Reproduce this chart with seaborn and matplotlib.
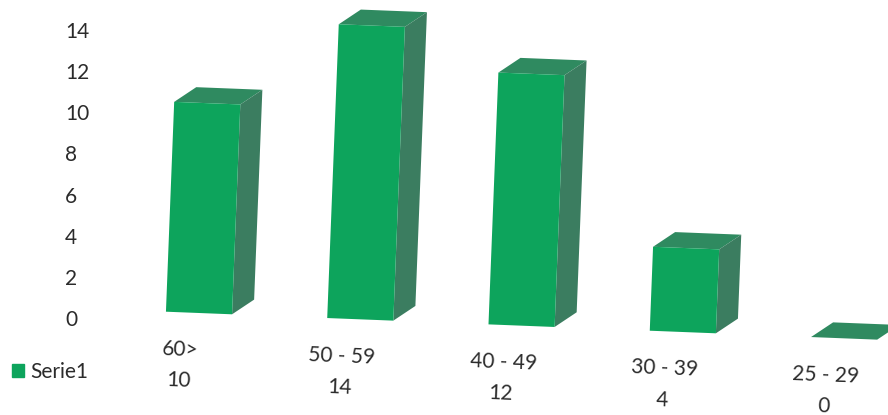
import matplotlib.pyplot as plt
import seaborn as sns
from matplotlib.patches import Patch, Polygon
from matplotlib.transforms import Affine2D

categories = ["60>", "50 - 59", "40 - 49", "30 - 39", "25 - 29"]
values = [10, 14, 12, 4, 0]
y_ticks = [0, 2, 4, 6, 8, 10, 12, 14]
series_name = "Serie1"

front_color = "#0da45c"
top_color = "#2f8a60"
side_color = "#3b7d60"
text_color = "#2b2b2b"

sns.set_theme(style="white")
plt.rcParams["font.family"] = ["Lato", "DejaVu Sans"]

fig = plt.figure(figsize=(8.88, 4.15), dpi=100)

# the source is a slightly crooked scan, so everything is turned by a small angle
ax = fig.add_axes([0, 0, 1, 1])
ax.set_xlim(-199 / 161.4, (888 - 199) / 161.4)
ax.set_ylim(-102 / 21.0, (415 - 102) / 21.0)
turned = ax.transData + Affine2D().rotate_deg_around(199, 102, -2.25)

sns.barplot(
    x=categories,
    y=values,
    color=front_color,
    saturation=1,
    width=0.41,
    linewidth=0,
    ax=ax
)
ax.set_xlim(-199 / 161.4, (888 - 199) / 161.4)
ax.set_axis_off()

dx = 0.133
dy = 0.74

for bar in ax.patches:
    bar.set_transform(turned)
    bar.set_zorder(3)
    x0 = bar.get_x()
    x1 = x0 + bar.get_width()
    h = bar.get_height()
    ax.add_patch(Polygon(
        [(x0, h), (x1, h), (x1 + dx, h + dy), (x0 + dx, h + dy)],
        facecolor=top_color, edgecolor="none", transform=turned, zorder=2,
        clip_on=False
    ))
    if h > 0:
        ax.add_patch(Polygon(
            [(x1, 0), (x1 + dx, dy), (x1 + dx, h + dy), (x1, h)],
            facecolor=side_color, edgecolor="none", transform=turned, zorder=2,
            clip_on=False
        ))

# category name and value rows below the bars
for i, (cat, val) in enumerate(zip(categories, values)):
    ax.text(i - 0.105, -1.78, cat, transform=turned, rotation=-2.25,
            rotation_mode="anchor", ha="center", va="center",
            fontsize=15, color=text_color)
    ax.text(i - 0.11, -3.27, str(val), transform=turned, rotation=-2.25,
            rotation_mode="anchor", ha="center", va="center",
            fontsize=15, color=text_color)

ax.legend(
    handles=[Patch(color=front_color, label=series_name)],
    loc="center left",
    bbox_to_anchor=(-0.008, 0.103),
    frameon=False,
    fontsize=15,
    handlelength=0.58,
    handleheight=0.58,
    handletextpad=0.3,
    labelcolor=text_color
)

# value axis, only the labels are visible
ax_y = fig.add_axes([90 / 888, (415 - 318) / 415, 0.1, 288 / 415], frameon=False)
ax_y.patch.set_alpha(0)
ax_y.set_ylim(0, 14)
ax_y.set_xticks([])
ax_y.set_yticks(y_ticks)
ax_y.tick_params(axis="y", length=0, pad=18, labelsize=15, labelcolor=text_color)
for label in ax_y.get_yticklabels():
    label.set_horizontalalignment("left")

fig.savefig("out.png", dpi=100)
